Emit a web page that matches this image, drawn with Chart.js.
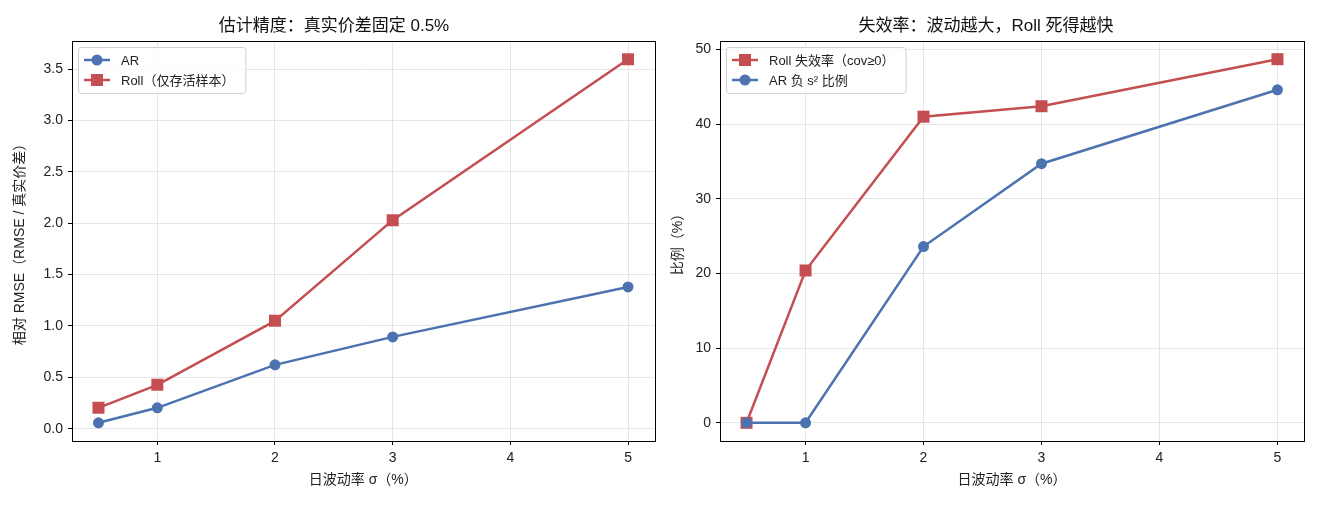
<!DOCTYPE html>
<html lang="zh">
<head>
<meta charset="UTF-8">
<title>估计精度与失效率</title>
<script src="https://cdn.jsdelivr.net/npm/chart.js"></script>
<style>
  body { margin: 0; background: #fff; }
  .box { position: absolute; top: 0; height: 505px; }
</style>
</head>
<body>
<div class="box" style="left:0;width:663px"><canvas id="accChart" width="663" height="505"></canvas></div>
<div class="box" style="left:660px;width:660px"><canvas id="failChart" width="660" height="505"></canvas></div>
<script>
// 日波动率 σ (%)
const sigma = [0.5, 1, 2, 3, 5];
const xTicks = [1, 2, 3, 4, 5];

// 左图：相对 RMSE
const rmseAR = [0.058, 0.204, 0.622, 0.894, 1.38];
const rmseRoll = [0.204, 0.428, 1.05, 2.03, 3.596];
const rmseTicks = [0, 0.5, 1, 1.5, 2, 2.5, 3, 3.5];

// 右图：失效率 (%)
const failRoll = [0, 20.4, 41.0, 42.4, 48.7];
const negAR = [0, 0, 23.6, 34.7, 44.6];
const pctTicks = [0, 10, 20, 30, 40, 50];

const BLUE = '#4c72b0';
const RED = '#c44e52';
const FONT = "'Liberation Sans', 'Noto Sans CJK SC', sans-serif";
Chart.defaults.font.family = FONT;
Chart.defaults.color = '#222';

function pts(xs, ys) {
  return xs.map((x, i) => ({ x: x, y: ys[i] }));
}

// matplotlib 风格的 5% 边距
function padRange(vals) {
  const lo = Math.min(...vals), hi = Math.max(...vals);
  const m = (hi - lo) * 0.05;
  return [lo - m, hi + m];
}

// 黑色边框
const framePlugin = {
  id: 'frame',
  afterDatasetsDraw(chart) {
    const a = chart.chartArea, ctx = chart.ctx;
    ctx.save();
    ctx.strokeStyle = '#000';
    ctx.lineWidth = 1;
    ctx.strokeRect(Math.round(a.left) + 0.5, Math.round(a.top) + 0.5,
      Math.round(a.right - a.left), Math.round(a.bottom - a.top));
    ctx.restore();
  }
};

// 图内左上角的图例
const boxLegend = {
  id: 'boxLegend',
  afterDraw(chart, args, opts) {
    const a = chart.chartArea, ctx = chart.ctx;
    const x0 = a.left + 6, y0 = a.top + 6;
    ctx.save();
    ctx.font = '13px ' + FONT;
    let w = 0;
    opts.items.forEach(it => { w = Math.max(w, ctx.measureText(it.label).width); });
    const bw = w + 54, bh = 46;
    ctx.fillStyle = 'rgba(255,255,255,0.8)';
    ctx.strokeStyle = '#d0d0d0';
    ctx.lineWidth = 1;
    ctx.beginPath();
    ctx.roundRect(x0 + 0.5, y0 + 0.5, bw, bh, 3);
    ctx.fill();
    ctx.stroke();
    opts.items.forEach((it, i) => {
      const cy = y0 + 13 + i * 20;
      ctx.strokeStyle = it.color;
      ctx.lineWidth = 2.5;
      ctx.beginPath();
      ctx.moveTo(x0 + 6, cy);
      ctx.lineTo(x0 + 32, cy);
      ctx.stroke();
      ctx.fillStyle = it.color;
      if (it.marker === 'rect') {
        ctx.fillRect(x0 + 19 - 6, cy - 6, 12, 12);
      } else {
        ctx.beginPath();
        ctx.arc(x0 + 19, cy, 5.5, 0, Math.PI * 2);
        ctx.fill();
      }
      ctx.fillStyle = '#222';
      ctx.textBaseline = 'middle';
      ctx.fillText(it.label, x0 + 43, cy + 1);
    });
    ctx.restore();
  }
};

function makeChart(id, cfg) {
  const [xmin, xmax] = padRange(sigma);
  const [ymin, ymax] = padRange(cfg.series.flatMap(s => s.data));
  return new Chart(document.getElementById(id), {
    type: 'line',
    data: {
      datasets: cfg.series.map(s => ({
        label: s.label,
        data: pts(sigma, s.data),
        borderColor: s.color,
        backgroundColor: s.color,
        borderWidth: 2.5,
        pointStyle: s.marker === 'rect' ? 'rect' : 'circle',
        pointRadius: s.marker === 'rect' ? 8.5 : 5.5,
        pointBorderWidth: 0,
        tension: 0,
        order: s.order
      }))
    },
    options: {
      responsive: false,
      animation: false,
      layout: { padding: { top: 0, right: cfg.rightPad, left: cfg.leftPad, bottom: 12 } },
      plugins: {
        legend: { display: false },
        tooltip: { enabled: false },
        title: {
          display: true,
          text: cfg.title,
          font: { size: 17, weight: 'normal' },
          color: '#111',
          padding: { top: 16, bottom: 4.6 }
        },
        boxLegend: { items: cfg.series }
      },
      scales: {
        x: {
          type: 'linear',
          min: xmin,
          max: xmax,
          afterBuildTicks: s => { s.ticks = xTicks.map(v => ({ value: v })); },
          afterFit: s => { s.height = 52; },
          ticks: { font: { size: 14 }, padding: 5, callback: v => String(v) },
          grid: { color: '#e6e6e6', tickColor: '#000', tickLength: 4 },
          border: { display: false },
          title: { display: true, text: '日波动率 σ（%）', font: { size: 14 }, padding: { top: 2 } }
        },
        y: {
          min: ymin,
          max: ymax,
          afterBuildTicks: s => { s.ticks = cfg.yTicks.map(v => ({ value: v })); },
          afterFit: s => { s.width = cfg.yWidth; },
          ticks: { font: { size: 14 }, padding: 5, callback: cfg.yFmt },
          grid: { color: '#e6e6e6', tickColor: '#000', tickLength: 4 },
          border: { display: false },
          title: { display: true, text: cfg.yTitle, font: { size: 14 }, padding: { top: 2, bottom: 4 } }
        }
      }
    },
    plugins: [framePlugin, boxLegend]
  });
}

makeChart('accChart', {
  title: '估计精度：真实价差固定 0.5%',
  yTitle: '相对 RMSE（RMSE / 真实价差）',
  yTicks: rmseTicks,
  yFmt: v => v.toFixed(1),
  leftPad: 10,
  yWidth: 62,
  rightPad: 5,
  series: [
    { label: 'AR', data: rmseAR, color: BLUE, marker: 'circle', order: 1 },
    { label: 'Roll（仅存活样本）', data: rmseRoll, color: RED, marker: 'rect', order: 0 }
  ]
});

makeChart('failChart', {
  title: '失效率：波动越大，Roll 死得越快',
  yTitle: '比例（%）',
  yTicks: pctTicks,
  yFmt: v => String(v),
  leftPad: 8,
  yWidth: 52,
  rightPad: 16,
  series: [
    { label: 'Roll 失效率（cov≥0）', data: failRoll, color: RED, marker: 'rect', order: 1 },
    { label: 'AR 负 s² 比例', data: negAR, color: BLUE, marker: 'circle', order: 0 }
  ]
});
</script>
</body>
</html>
